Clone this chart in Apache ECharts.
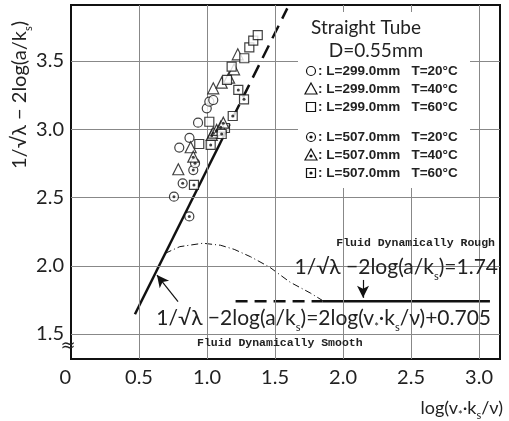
<!DOCTYPE html>
<html>
<head>
<meta charset="utf-8">
<script src="https://cdn.jsdelivr.net/npm/echarts@6/dist/echarts.min.js"></script>
<style>html,body{margin:0;padding:0;background:#fff}#c{width:509px;height:421px}</style>
</head>
<body>
<div id="c"></div>
<script>
// ---- tick labels ----
const xTicks = [0, 0.5, 1.0, 1.5, 2.0, 2.5, 3.0];
const yTicks = [1.5, 2.0, 2.5, 3.0, 3.5];

// ---- measured points ----
const circ299_20 = [[0.796,2.866],[0.871,2.937],[0.934,3.048],[0.998,3.153],[1.017,3.202],[1.046,3.214]];
const tri299_40 = [[0.789,2.707],[0.880,2.868],[1.046,3.300],[1.108,3.341],[1.162,3.378],[1.199,3.439],[1.226,3.549]];
const sq299_60 = [[0.943,2.892],[1.017,3.055],[1.132,3.009],[1.147,3.361],[1.181,3.458],[1.274,3.520],[1.311,3.600],[1.340,3.649],[1.373,3.690]];
const circ507_20 = [[0.757,2.506],[0.821,2.604],[0.870,2.361],[0.899,2.701],[0.912,2.751]];
const tri507_40 = [[0.899,2.799],[1.035,2.958],[1.046,2.975],[1.071,2.995],[1.101,3.019],[1.120,3.048]];
const sq507_60 = [[0.904,2.592],[1.027,2.885],[1.108,2.965],[1.189,3.097],[1.230,3.288],[1.272,3.219]];

// ---- reference lines ----
const smoothSolid = [[0.47,1.645],[1.12,2.945]];
const smoothDashed = [[1.12,2.945],[1.59,3.885]];
const roughDashed = [[1.21,1.74],[1.85,1.74]];
const roughSolid = [[1.85,1.74],[3.08,1.74]];
const transition = [[0.69,2.09],[0.80,2.14],[0.97,2.165],[1.10,2.15],[1.20,2.12],[1.32,2.066],[1.46,1.99],[1.61,1.88],[1.76,1.80],[1.85,1.745]];
const arrowSmooth = [[0.787,1.737],[0.632,1.932]];
const arrowRough = [[2.147,1.896],[2.147,1.765]];

const FONT = 'Lato, "DejaVu Sans", sans-serif';
const chart = echarts.init(document.getElementById('c'), null, {renderer:'canvas'});

function scat(name, data, symbol, size) {
  return {name, type:'scatter', data, symbol, symbolSize:size, z:5,
    itemStyle:{color:'#fff', borderColor:'#111', borderWidth:1.2}};
}
function dots(data) {
  return {type:'scatter', data, symbol:'circle', symbolSize:3, z:6, itemStyle:{color:'#111'}};
}
function line(data, width, type) {
  return {type:'line', data, symbol:'none', z:3, lineStyle:{color:'#111', width, type}};
}

const gridLines = [];
xTicks.filter(v => v > 0).forEach(v => gridLines.push({xAxis:v}));
yTicks.forEach(v => gridLines.push({yAxis:v}));

const sub = {fontSize:11, fontFamily:FONT, verticalAlign:'bottom', padding:[0,0,-4,0]};

const option = {
  animation:false,
  backgroundColor:'#fff',
  grid:{left:71, top:5, right:9, bottom:62, show:true, borderColor:'#111', borderWidth:2},
  xAxis:{type:'value', min:0, max:3.154,
    axisLine:{show:true, onZero:false, lineStyle:{color:'#111', width:2}},
    axisTick:{show:false}, splitLine:{show:false},
    axisLabel:{customValues:xTicks, fontSize:20, fontFamily:FONT, color:'#222', margin:9,
      alignMinLabel:'right', formatter:v => v===0 ? '0' : v.toFixed(1)}},
  yAxis:{type:'value', min:1.317, max:3.91,
    axisLine:{show:true, onZero:false, lineStyle:{color:'#111', width:2}},
    axisTick:{show:false}, splitLine:{show:false},
    axisLabel:{customValues:yTicks, fontSize:20, fontFamily:FONT, color:'#222', margin:7,
      formatter:v => v.toFixed(1)}},
  series:[
    {type:'line', data:[], z:1, silent:true,
      markLine:{silent:true, symbol:'none', label:{show:false},
        lineStyle:{color:'#888', width:1, type:'solid'}, data:gridLines}},
    line(smoothSolid, 2.5, 'solid'),
    line(smoothDashed, 2.5, [14,8]),
    line(roughDashed, 2.5, [12,7]),
    line(roughSolid, 2.5, 'solid'),
    line(transition, 1, [7,3,1,3]),
    {type:'line', data:[], z:4, silent:true,
      markLine:{silent:true, symbol:['none','arrow'], symbolSize:[9,12], label:{show:false},
        lineStyle:{color:'#111', width:1.2, type:'solid'},
        data:[[{coord:arrowSmooth[0]},{coord:arrowSmooth[1]}],[{coord:arrowRough[0]},{coord:arrowRough[1]}]]}},
    scat('L=299.0mm T=20°C', circ299_20, 'circle', 9),
    scat('L=299.0mm T=40°C', tri299_40, 'triangle', 11),
    scat('L=299.0mm T=60°C', sq299_60, 'rect', 9),
    scat('L=507.0mm T=20°C', circ507_20, 'circle', 9),
    dots(circ507_20),
    scat('L=507.0mm T=40°C', tri507_40, 'triangle', 11),
    dots(tri507_40.map(p => [p[0], p[1] - 0.005])),
    scat('L=507.0mm T=60°C', sq507_60, 'rect', 9),
    dots(sq507_60)
  ],
  graphic:[]
};

// legend block
const legendRows = [
  {shape:'circle', dot:false, text:': L=299.0mm   T=20°C', y:71},
  {shape:'tri', dot:false, text:': L=299.0mm   T=40°C', y:89},
  {shape:'rect', dot:false, text:': L=299.0mm   T=60°C', y:107},
  {shape:'circle', dot:true, text:': L=507.0mm   T=20°C', y:137},
  {shape:'tri', dot:true, text:': L=507.0mm   T=40°C', y:155},
  {shape:'rect', dot:true, text:': L=507.0mm   T=60°C', y:173}
];
const g = option.graphic;
g.push({type:'rect', shape:{x:298, y:12, width:172, height:176}, style:{fill:'#fff'}, z:10});
g.push({type:'text', x:366, y:28, z:11, style:{text:'Straight Tube', font:'19px '+FONT, fill:'#222', align:'center', verticalAlign:'middle'}});
g.push({type:'text', x:376, y:51, z:11, style:{text:'D=0.55mm', font:'19px '+FONT, fill:'#222', align:'center', verticalAlign:'middle'}});
legendRows.forEach(r => {
  const cx = 311, cy = r.y;
  const st = {fill:'#fff', stroke:'#111', lineWidth:1.2};
  if (r.shape === 'circle') g.push({type:'circle', shape:{cx, cy, r:4.5}, style:st, z:11});
  if (r.shape === 'rect') g.push({type:'rect', shape:{x:cx-4.5, y:cy-4.5, width:9, height:9}, style:st, z:11});
  if (r.shape === 'tri') g.push({type:'polygon', shape:{points:[[cx,cy-6],[cx+6,cy+5],[cx-6,cy+5]]}, style:st, z:11});
  if (r.dot) g.push({type:'circle', shape:{cx, cy:cy+(r.shape==='tri'?1:0), r:1.6}, style:{fill:'#111'}, z:12});
  g.push({type:'text', x:318, y:cy, z:11, style:{text:r.text, font:'bold 13.5px "Liberation Sans", sans-serif', fill:'#222', verticalAlign:'middle'}});
});

// y axis title
g.push({type:'text', x:20, y:95, rotation:Math.PI/2, z:11,
  style:{text:'1/√λ − 2log(a/k{s|s})', font:'20px '+FONT, fill:'#222', align:'center', verticalAlign:'middle', rich:{s:sub}}});
// x axis title
g.push({type:'text', x:503, y:408, z:11,
  style:{text:'log(v{s|*}·k{s|s}/ν)', font:'18px '+FONT, fill:'#222', align:'right', verticalAlign:'middle', rich:{s:sub}}});
// annotations
g.push({type:'text', x:495, y:243, z:11,
  style:{text:'Fluid Dynamically Rough', font:'bold 11.5px "Liberation Mono", monospace', fill:'#222', align:'right', verticalAlign:'middle'}});
g.push({type:'text', x:498, y:267, z:11,
  style:{text:'1/√λ −2log(a/k{s|s})=1.74', font:'21px '+FONT, fill:'#222', align:'right', verticalAlign:'middle', rich:{s:sub}}});
g.push({type:'text', x:491, y:318, z:11,
  style:{text:'1/√λ −2log(a/k{s|s})=2log(v{s|*}·k{s|s}/ν)+0.705', font:'21px '+FONT, fill:'#222', align:'right', verticalAlign:'middle', rich:{s:sub}}});
g.push({type:'text', x:197, y:343, z:11,
  style:{text:'Fluid Dynamically Smooth', font:'bold 11.5px "Liberation Mono", monospace', fill:'#222', align:'left', verticalAlign:'middle'}});
g.push({type:'text', x:68, y:346, z:11,
  style:{text:'≈', font:'18px "DejaVu Sans"', fill:'#222', align:'center', verticalAlign:'middle'}});

chart.setOption(option);
</script>
</body>
</html>
